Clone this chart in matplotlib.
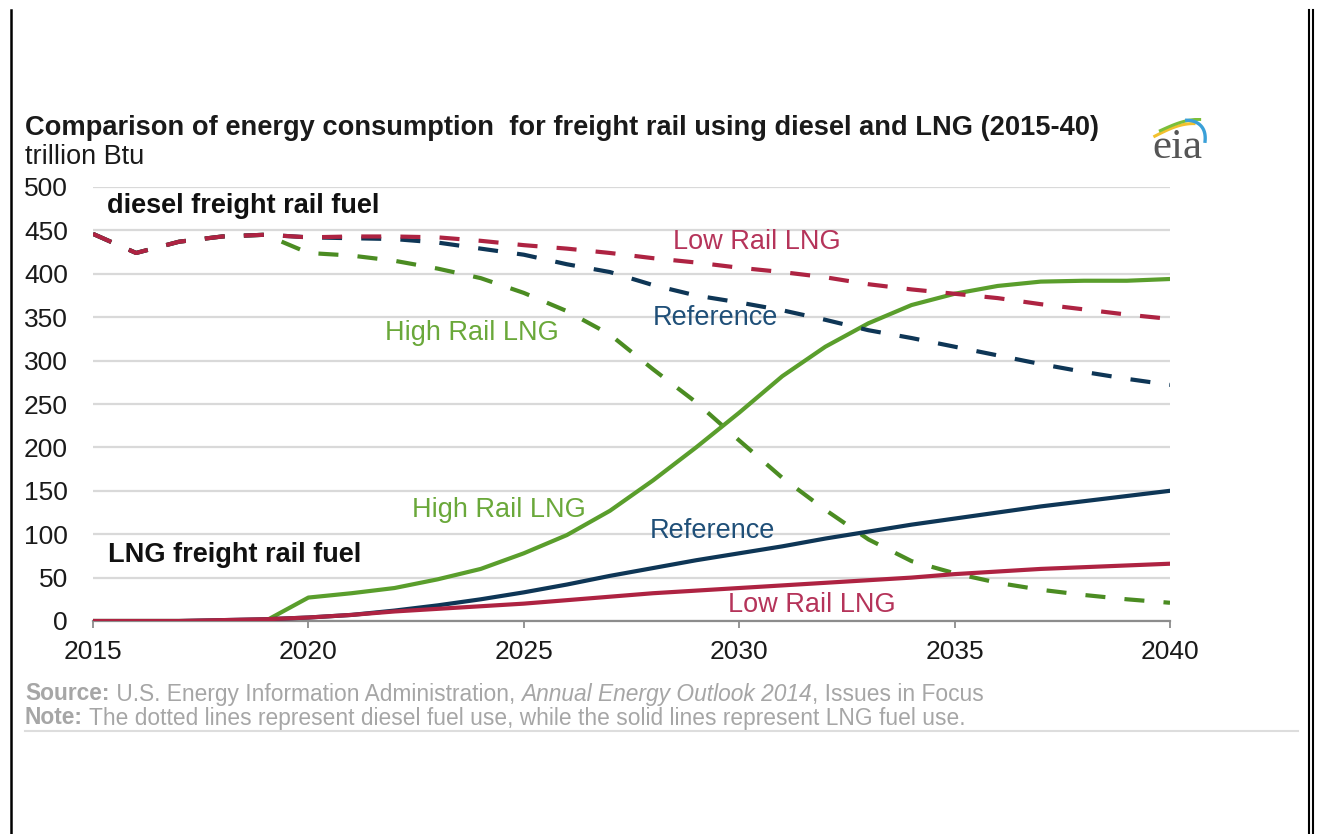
import numpy as np
import matplotlib.pyplot as plt
from matplotlib.lines import Line2D

plt.rcParams['font.family'] = ['Liberation Sans', 'DejaVu Sans']

# data (trillion Btu)
years = list(range(2015, 2041))

diesel_ref = [446, 424, 437, 443, 445, 442, 441, 440, 436, 429, 422, 411, 402, 387, 375,
              367, 358, 347, 335, 326, 316, 306, 296, 287, 279, 272]
diesel_low = [446, 424, 437, 443, 445, 442, 443, 443, 442, 438, 433, 429, 424, 418, 413,
              407, 402, 396, 388, 382, 377, 372, 365, 359, 353, 348]
diesel_high = [446, 424, 437, 443, 445, 424, 421, 415, 406, 395, 378, 357, 330, 290, 252,
               208, 165, 128, 94, 69, 55, 44, 36, 30, 25, 21]

lng_ref = [0, 0, 0, 1, 2, 4, 7, 12, 18, 25, 33, 42, 52, 61, 70, 78, 86, 95, 103, 111,
           118, 125, 132, 138, 144, 150]
lng_low = [0, 0, 0, 1, 2, 4, 7, 11, 14, 17, 20, 24, 28, 32, 35, 38, 41, 44, 47, 50, 54,
           57, 60, 62, 64, 66]
lng_high = [0, 0, 0, 0, 0, 27, 32, 38, 48, 60, 78, 99, 127, 162, 200, 240, 282, 316, 343,
            364, 377, 386, 391, 392, 392, 394]

y_ticks = [0, 50, 100, 150, 200, 250, 300, 350, 400, 450, 500]
x_ticks = [2015, 2020, 2025, 2030, 2035, 2040]

green = '#5a9e2c'
green_dark = '#4b8c22'
navy = '#0e3656'
red = '#ae2342'
grey_txt = '#a6a6a6'

fig = plt.figure(figsize=(13.18, 8.34), dpi=100)
ax = fig.add_axes([93 / 1318, 1 - 621 / 834, 1077 / 1318, 434 / 834])

lw = 3.0
dash = (4.8, 4.6)
# diesel (dashed)
ax.plot(years, diesel_high, color=green_dark, lw=lw, dashes=dash, zorder=3)
ax.plot(years, diesel_ref, color=navy, lw=lw, dashes=dash, zorder=4)
ax.plot(years, diesel_low, color=red, lw=lw, dashes=dash, zorder=5)
# LNG (solid)
ax.plot(years, lng_high, color=green, lw=lw, zorder=3)
ax.plot(years, lng_ref, color=navy, lw=lw, zorder=4)
ax.plot(years, lng_low, color=red, lw=lw, zorder=5)

ax.set_xlim(2015, 2040)
ax.set_ylim(0, 500)
ax.set_yticks(y_ticks)
ax.set_xticks(x_ticks)
ax.grid(axis='y', color='#d9d9d9', lw=1.6, zorder=0)
ax.set_axisbelow(True)
for s in ['top', 'right', 'left']:
    ax.spines[s].set_visible(False)
ax.spines['bottom'].set_color('#8c8c8c')
ax.spines['bottom'].set_linewidth(1.6)
ax.spines['bottom'].set_zorder(2)
ax.tick_params(axis='y', length=0, pad=18, labelsize=19, labelcolor='#1a1a1a')
ax.tick_params(axis='x', length=5, width=1.3, color='#8c8c8c', pad=9,
               labelsize=19, labelcolor='#1a1a1a')
ax.set_facecolor('none')

# series labels
ax.text(2015.33, 478, 'diesel freight rail fuel', fontsize=19.5, fontweight='bold',
        color='#111111', va='center')
ax.text(2015.35, 76, 'LNG freight rail fuel', fontsize=19.5, fontweight='bold',
        color='#111111', va='center')
lab = dict(fontsize=19.5, va='center')
ax.text(2028.46, 437, 'Low Rail LNG', color='#b5345a', **lab)
ax.text(2028.0, 349, 'Reference', color='#1f4f78', **lab)
ax.text(2021.78, 332, 'High Rail LNG', color='#6aa83a', **lab)
ax.text(2022.4, 128, 'High Rail LNG', color='#6aa83a', **lab)
ax.text(2027.93, 104, 'Reference', color='#1f4f78', **lab)
ax.text(2029.74, 18, 'Low Rail LNG', color='#b5345a', **lab)

# title block
fig.text(25 / 1318, 1 - 128 / 834,
         'Comparison of energy consumption  for freight rail using diesel and LNG (2015-40)',
         fontsize=19.6, fontweight='bold', color='#1a1a1a', va='center')
fig.text(25 / 1318, 1 - 157 / 834, 'trillion Btu', fontsize=19.5, color='#1a1a1a',
         va='center')

# eia mark
fig.text(1177 / 1318, 1 - 148 / 834, 'eia', fontsize=31, color='#555555',
         family=['Liberation Serif', 'DejaVu Serif'], ha='center', va='center')
la = fig.add_axes([1152 / 1318, 1 - 146 / 834, 56 / 1318, 28 / 834])
la.axis('off')
t = np.linspace(0, 1, 50)
la.plot(0.05 + t * 0.7, 0.35 + 0.45 * np.sin(t * 1.6), color='#f2c12e', lw=2.2)
la.plot(0.15 + t * 0.7, 0.55 + 0.4 * np.sin(t * 1.6), color='#7bbf3a', lw=2.2)
la.plot(0.62 + 0.33 * np.sin(t * 1.7), 0.92 - 0.75 * t ** 2, color='#3aa0d8', lw=2.4)
la.set_xlim(0, 1)
la.set_ylim(0, 1)

# source and note
fs = 16.4
src = fig.text(25 / 1318, 1 - 694 / 834, 'Source:', fontsize=fs, fontweight='bold',
               color=grey_txt, va='center')
a = ax.annotate(' U.S. Energy Information Administration, ', xy=(1, 0), xycoords=src,
                fontsize=fs, color=grey_txt, va='bottom', annotation_clip=False)
b = ax.annotate('Annual Energy Outlook 2014', xy=(1, 0), xycoords=a, fontsize=fs,
                color=grey_txt, style='italic', va='bottom', annotation_clip=False)
ax.annotate(', Issues in Focus', xy=(1, 0), xycoords=b, fontsize=fs, color=grey_txt,
            va='bottom', annotation_clip=False)
note = fig.text(25 / 1318, 1 - 718 / 834, 'Note:', fontsize=fs, fontweight='bold',
                color=grey_txt, va='center')
ax.annotate(' The dotted lines represent diesel fuel use, while the solid lines represent LNG fuel use.',
            xy=(1, 0), xycoords=note, fontsize=fs, color=grey_txt, va='bottom',
            annotation_clip=False)
fig.add_artist(Line2D([25 / 1318, 1298 / 1318], [1 - 731 / 834] * 2, color='#dddddd',
                      lw=1.5))

# page borders
fig.add_artist(Line2D([11 / 1318, 11 / 1318], [1 - 10 / 834, 0], color='black', lw=1.8))
fig.add_artist(Line2D([1309 / 1318, 1309 / 1318], [1 - 10 / 834, 0], color='black', lw=1.5))
fig.add_artist(Line2D([1313 / 1318, 1313 / 1318], [1 - 10 / 834, 0], color='black', lw=1.5))

fig.savefig('out.png', dpi=100, facecolor='white')
